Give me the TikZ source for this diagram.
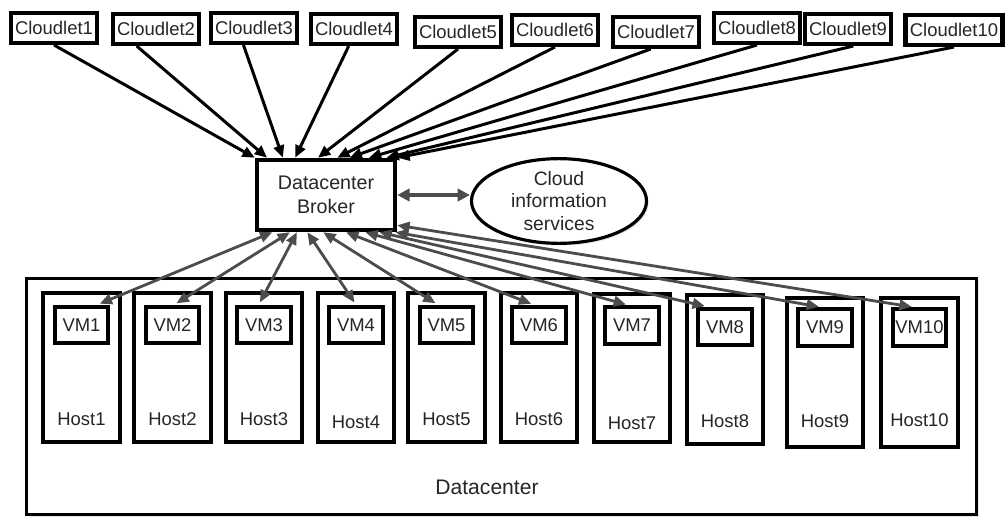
\documentclass[tikz,border=0pt]{standalone}
\usepackage{fontspec}
\setmainfont{Liberation Sans}
\usetikzlibrary{arrows.meta,positioning,shapes.geometric,shadows}
\tikzset{
  shd/.style  = {drop shadow={shadow xshift=1.2pt, shadow yshift=-1.2pt, opacity=0.22}},
  clt/.style  = {rectangle, draw, fill=white, shd, line width=2.3pt, minimum height=0.6cm,
                 inner xsep=2.5pt, inner ysep=0pt, text=black!85, font=\fontsize{10.5}{12}\selectfont},
  brk/.style  = {rectangle, draw, fill=white, shd, line width=2.3pt, minimum width=2.77cm,
                 minimum height=1.41cm, align=center, text=black!85, font=\fontsize{11.2}{14}\selectfont},
  cis/.style  = {ellipse, draw, fill=white, shd, line width=1.8pt, minimum width=3.5cm,
                 minimum height=1.45cm, inner sep=0pt, align=center, text=black!85,
                 font=\fontsize{11}{13}\selectfont},
  dcb/.style  = {rectangle, draw, fill=white, shd, line width=1.8pt, minimum width=19.0cm,
                 minimum height=4.72cm},
  hst/.style  = {rectangle, draw, fill=white, shd, line width=2.3pt, minimum width=1.53cm,
                 minimum height=2.97cm},
  vmb/.style  = {rectangle, draw, fill=white, shd, line width=2.3pt, minimum width=1.07cm,
                 minimum height=0.73cm, inner sep=0pt, text=black!85, font=\fontsize{10.5}{12}\selectfont},
  hlb/.style  = {text=black!85, font=\fontsize{10.5}{12}\selectfont},
  arr/.style  = {-{Triangle[length=7pt,width=6pt]}, line width=1.7pt},
  arrg/.style = {{Triangle[length=7pt,width=6pt]}-{Triangle[length=7pt,width=6pt]},
                 line width=1.6pt, draw=black!70, shorten >=1.5pt},
  arrw/.style = {{Triangle[length=7pt,width=7pt]}-{Triangle[length=7pt,width=7pt]},
                 line width=2.2pt, draw=black!70},
}

\begin{document}
\begin{tikzpicture}
  \useasboundingbox (0,0) rectangle (20.14,-10.36);
  % cloudlets
  \node[clt] (c1)  at (1.08,-0.56)  {Cloudlet1};
  \node[clt] (c2)  at (3.12,-0.58)  {Cloudlet2};
  \node[clt] (c3)  at (5.08,-0.56)  {Cloudlet3};
  \node[clt] (c4)  at (7.08,-0.58)  {Cloudlet4};
  \node[clt] (c5)  at (9.16,-0.64)  {Cloudlet5};
  \node[clt] (c6)  at (11.10,-0.60) {Cloudlet6};
  \node[clt] (c7)  at (13.12,-0.64) {Cloudlet7};
  \node[clt] (c8)  at (15.14,-0.56) {Cloudlet8};
  \node[clt] (c9)  at (16.96,-0.58) {Cloudlet9};
  \node[clt] (c10) at (19.08,-0.60) {Cloudlet10};
  % broker and information services
  \node[brk] (broker) at (6.52,-3.90) {Datacenter\\Broker};
  \node[cis] (cis) at (11.18,-4.02) {Cloud\\information\\services};
  % datacenter
  \node[dcb] (dc) at (10.03,-7.93) {};
  \node[hlb, font=\fontsize{12}{14}\selectfont] (dclbl) at (9.74,-9.74) {Datacenter};
  % hosts
  \node[hst] (h1)  at (1.63,-7.35)  {};
  \node[hst] (h2)  at (3.45,-7.35)  {};
  \node[hst] (h3)  at (5.28,-7.35)  {};
  \node[hst] (h4)  at (7.12,-7.35)  {};
  \node[hst] (h5)  at (8.93,-7.35)  {};
  \node[hst] (h6)  at (10.78,-7.35) {};
  \node[hst] (h7)  at (12.64,-7.36) {};
  \node[hst] (h8)  at (14.50,-7.39) {};
  \node[hst] (h9)  at (16.50,-7.45) {};
  \node[hst] (h10) at (18.39,-7.45) {};
  % vms
  \node[vmb, below=0.27cm of h1.north]  (vm1)  {VM1};
  \node[vmb, below=0.27cm of h2.north]  (vm2)  {VM2};
  \node[vmb, below=0.27cm of h3.north]  (vm3)  {VM3};
  \node[vmb, below=0.27cm of h4.north]  (vm4)  {VM4};
  \node[vmb, below=0.27cm of h5.north]  (vm5)  {VM5};
  \node[vmb, below=0.27cm of h6.north]  (vm6)  {VM6};
  \node[vmb, below=0.27cm of h7.north]  (vm7)  {VM7};
  \node[vmb, below=0.27cm of h8.north]  (vm8)  {VM8};
  \node[vmb, below=0.22cm of h9.north]  (vm9)  {VM9};
  \node[vmb, below=0.22cm of h10.north] (vm10) {VM10};
  % host labels
  \node[hlb, above=0.24cm of h1.south]  (hl1)  {Host1};
  \node[hlb, above=0.24cm of h2.south]  (hl2)  {Host2};
  \node[hlb, above=0.24cm of h3.south]  (hl3)  {Host3};
  \node[hlb, above=0.18cm of h4.south]  (hl4)  {Host4};
  \node[hlb, above=0.24cm of h5.south]  (hl5)  {Host5};
  \node[hlb, above=0.24cm of h6.south]  (hl6)  {Host6};
  \node[hlb, above=0.16cm of h7.south]  (hl7)  {Host7};
  \node[hlb, above=0.24cm of h8.south]  (hl8)  {Host8};
  \node[hlb, above=0.30cm of h9.south]  (hl9)  {Host9};
  \node[hlb, above=0.32cm of h10.south] (hl10) {Host10};
  % cloudlets to broker
  \draw[arr] (c1.south) -- (broker.north west);
  \draw[arr] ([xshift=-11pt]c2.south) -- ([xshift=7pt]broker.north west);
  \draw[arr] ([xshift=-6pt]c3.south) -- ([xshift=16pt]broker.north west);
  \draw[arr] ([xshift=-3pt]c4.south) -- ([xshift=23pt]broker.north west);
  \draw[arr] (c5.south) -- ([xshift=36pt]broker.north west);
  \draw[arr] (c6.south) -- ([xshift=47pt]broker.north west);
  \draw[arr] ([xshift=-3pt]c7.south) -- ([xshift=54pt]broker.north west);
  \draw[arr] (c8.south) -- ([xshift=65pt]broker.north west);
  \draw[arr] ([xshift=3pt]c9.south) -- ([xshift=75pt]broker.north west);
  \draw[arr] (c10.south) -- (broker.north east);
  % broker to vms
  \draw[arrg] ([xshift=10pt]broker.south west) -- ([xshift=9pt]vm1.north);
  \draw[arrg] ([xshift=20pt]broker.south west) -- ([xshift=1pt]vm2.north);
  \draw[arrg] ([xshift=24pt]broker.south west) -- ([xshift=-3pt]vm3.north);
  \draw[arrg] ([xshift=30pt]broker.south west) -- (vm4.north);
  \draw[arrg] ([xshift=39pt]broker.south west) -- ([xshift=-5pt]vm5.north);
  \draw[arrg] ([xshift=52pt]broker.south west) -- ([xshift=-3pt]vm6.north);
  \draw[arrg] ([xshift=63pt]broker.south west) -- ([xshift=-2pt]vm7.north);
  \draw[arrg] ([xshift=71pt]broker.south west) -- ([xshift=-10pt]vm8.north);
  \draw[arrg] ([xshift=-1pt]broker.south east) -- ([xshift=-2pt]vm9.north);
  \draw[arrg] ([yshift=4pt]broker.south east) -- ([xshift=-3pt]vm10.north);
  % broker and information services
  \draw[arrw] (broker.east) -- (broker.east -| cis.west);
\end{tikzpicture}
\end{document}
